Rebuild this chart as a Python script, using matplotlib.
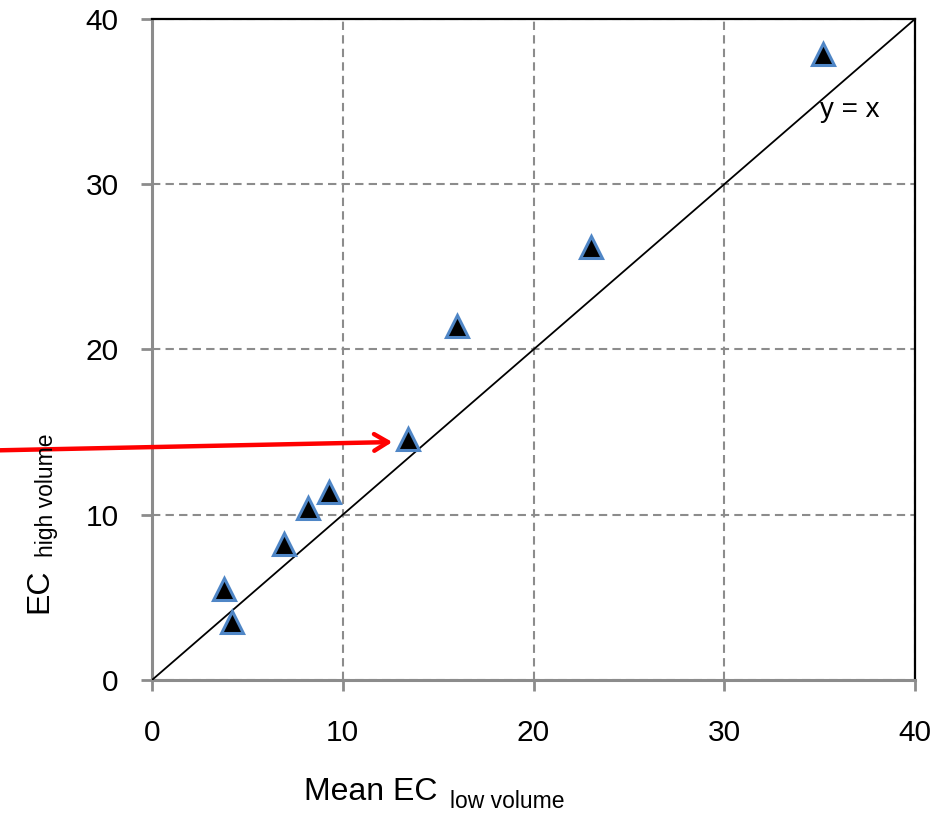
import matplotlib
matplotlib.use("Agg")
import matplotlib.pyplot as plt

plt.rcParams['font.family'] = ['Liberation Sans', 'DejaVu Sans']

# --- data ---
mean_ec_low = [3.8, 4.2, 6.9, 8.2, 9.3, 13.4, 16.0, 23.0, 35.2]
ec_high = [5.5, 3.5, 8.2, 10.4, 11.4, 14.6, 21.4, 26.2, 37.9]
ticks = [0, 10, 20, 30, 40]
identity = [0, 40]
arrow_from = (-8.0, 13.9)
arrow_to = (12.6, 14.4)

W, H = 952, 815
fig = plt.figure(figsize=(W / 100, H / 100), dpi=100)
ax = fig.add_axes([152 / W, 1 - 680 / H, (915 - 152) / W, (680 - 19) / H])

ax.set_xlim(0, 40)
ax.set_ylim(0, 40)
ax.set_xticks(ticks)
ax.set_yticks(ticks)
ax.grid(True, color='#8c8c8c', linestyle=(0, (4, 2.5)), linewidth=1.5)
ax.set_axisbelow(True)

# y = x reference line
ax.plot(identity, identity, color='black', linewidth=1.3, zorder=3)
ax.text(35.0, 34.5, 'y = x', fontsize=20, color='black', va='center')

ax.plot(mean_ec_low, ec_high, linestyle='none', marker='^', markersize=16.5,
        markerfacecolor='black', markeredgecolor='#4f86c6',
        markeredgewidth=2.2, zorder=4)

ax.annotate('', xy=arrow_to, xytext=arrow_from, xycoords='data',
            annotation_clip=False,
            arrowprops=dict(arrowstyle='->,head_length=1.0,head_width=0.6',
                            color='#ff0000', linewidth=3.2,
                            shrinkA=0, shrinkB=0))

for side in ['top', 'right']:
    ax.spines[side].set_color('black')
    ax.spines[side].set_linewidth(1.6)
for side in ['left', 'bottom']:
    ax.spines[side].set_color('#8c8c8c')
    ax.spines[side].set_linewidth(2.2)

ax.tick_params(axis='both', direction='out', length=8, width=2,
               color='#8c8c8c', labelsize=21.5, labelcolor='black')
ax.tick_params(axis='y', pad=16)
ax.tick_params(axis='x', pad=20)

# axis labels with subscripts
fig.text(437 / W, 1 - 800 / H, 'Mean EC', fontsize=23, ha='right',
         va='baseline')
fig.text(450 / W, 1 - 808 / H, 'low volume', fontsize=16.5, ha='left',
         va='baseline')
fig.text(47 / W, 1 - 613 / H, 'EC', fontsize=23, rotation=90,
         rotation_mode='anchor', ha='left', va='baseline')
fig.text(53 / W, 1 - 557 / H, 'high volume', fontsize=16.5, rotation=90,
         rotation_mode='anchor', ha='left', va='baseline')

fig.savefig('out.png', dpi=100)
